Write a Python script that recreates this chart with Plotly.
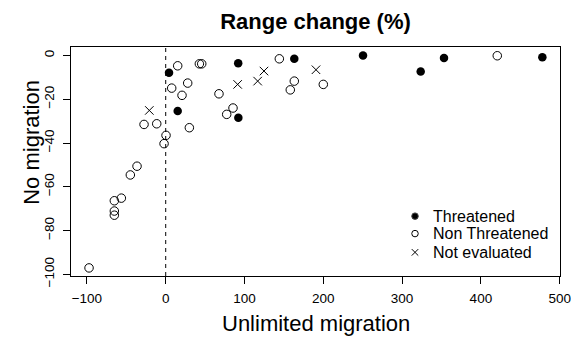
import plotly.graph_objects as go

# Data (Unlimited migration %, No migration %)
thr_x = [4.2, 92.0, 15.2, 92.2, 163.2, 250.4, 323.6, 353.2, 478.0]
thr_y = [-7.9, -3.5, -25.4, -28.4, -1.5, 0.0, -7.3, -1.1, -0.8]

non_x = [15.2, 42.7, 45.7, 27.9, 7.6, 20.7, 67.6, -27.5, -11.4, 30.0, 0.4, -2.1,
         77.4, 85.4, -36.4, -44.9, -56.3, -65.2, -65.2, -65.2, -97.3, 144.2,
         163.2, 158.1, 200.0, 420.8]
non_y = [-4.7, -3.8, -3.8, -12.6, -14.9, -18.2, -17.5, -31.5, -31.2, -33.0, -36.5, -40.3,
         -26.9, -24.0, -50.6, -54.6, -65.2, -66.4, -71.1, -73.0, -97.1, -1.5,
         -11.7, -15.7, -13.2, -0.1]

nev_x = [-20.8, 91.3, 116.7, 124.7, 190.7]
nev_y = [-25.1, -13.2, -11.7, -7.1, -6.5]

x_ticks = [-100, 0, 100, 200, 300, 400, 500]
y_ticks = [-100, -80, -60, -40, -20, 0]
legend_labels = ["Threatened", "Non Threatened", "Not evaluated"]

FONT = "Liberation Sans, Arial, sans-serif"
W, H = 571, 338
L, R, T, B = 71, 11, 46.5, 62
PW, PH = W - L - R, H - T - B


def px2paper(px, py):
    return (px - L) / PW, (H - B - py) / PH


fig = go.Figure()
fig.add_trace(go.Scatter(x=thr_x, y=thr_y, mode="markers",
                         marker=dict(symbol="circle", size=8.5, color="black",
                                     line=dict(width=0)), showlegend=False))
fig.add_trace(go.Scatter(x=non_x, y=non_y, mode="markers",
                         marker=dict(symbol="circle-open", size=8.5, color="black",
                                     line=dict(width=1)), showlegend=False))
fig.add_trace(go.Scatter(x=nev_x, y=nev_y, mode="markers",
                         marker=dict(symbol="x-thin-open", size=8.5, color="black",
                                     line=dict(width=1)), showlegend=False))

# custom legend (overlay axes in paper-like units)
leg_px = 415
leg_pys = [216, 233.5, 252.3]
lx, ly = [], []
for py in leg_pys:
    a, b = px2paper(leg_px, py)
    lx.append(a)
    ly.append(b)
fig.add_trace(go.Scatter(x=lx, y=ly, mode="markers", xaxis="x2", yaxis="y2",
                         marker=dict(symbol=["circle", "circle-open", "x-thin-open"],
                                     size=6.5, color="black", line=dict(width=1)),
                         showlegend=False, hoverinfo="skip"))
for lab, py in zip(legend_labels, leg_pys):
    a, b = px2paper(431, py)
    fig.add_annotation(x=a, y=b, xref="paper", yref="paper", text=lab,
                       showarrow=False, xanchor="left", yanchor="middle",
                       font=dict(family=FONT, size=16, color="black"))

# axis titles as annotations (pixel-placed)
a, b = px2paper(L + PW / 2, 323.5)
fig.add_annotation(x=a, y=b, xref="paper", yref="paper", text="Unlimited migration",
                   showarrow=False, xanchor="center", yanchor="middle",
                   font=dict(family=FONT, size=22, color="black"))
a, b = px2paper(31.5, 142)
fig.add_annotation(x=a, y=b, xref="paper", yref="paper", text="No migration",
                   showarrow=False, xanchor="center", yanchor="middle", textangle=-90,
                   font=dict(family=FONT, size=22, color="black"))

fig.add_shape(type="line", x0=0, x1=0, xref="x", y0=0, y1=1, yref="paper",
              line=dict(color="black", width=1, dash="4px,4px"))

fig.update_layout(
    template="none",
    width=W, height=H,
    margin=dict(l=L, r=R, t=T, b=B, pad=0),
    paper_bgcolor="white", plot_bgcolor="white",
    font=dict(family=FONT, color="black"),
    title=dict(text="<b>Range change (%)</b>", x=(L + PW / 2) / W, xanchor="center",
               y=1 - 21 / H, yanchor="middle", automargin=False,
               font=dict(family=FONT, size=22, color="black")),
    xaxis=dict(range=[-120.2, 500.4], tickvals=x_ticks, showgrid=False, zeroline=False,
               automargin=False,
               showline=True, mirror=True, linecolor="black", linewidth=1,
               ticks="outside", ticklen=7, tickcolor="black", tickwidth=1,
               tickfont=dict(size=13.5, family=FONT), ticklabelstandoff=3),
    yaxis=dict(range=[-100.8, 3.9], tickvals=y_ticks, showgrid=False, zeroline=False,
               automargin=False,
               showline=True, mirror=True, linecolor="black", linewidth=1,
               ticks="outside", ticklen=7, tickcolor="black", tickwidth=1,
               tickangle=-90, tickfont=dict(size=13.5, family=FONT), ticklabelstandoff=4),
    xaxis2=dict(range=[0, 1], overlaying="x", visible=False, fixedrange=True),
    yaxis2=dict(range=[0, 1], overlaying="y", visible=False, fixedrange=True),
)

fig.write_html("out.html")
